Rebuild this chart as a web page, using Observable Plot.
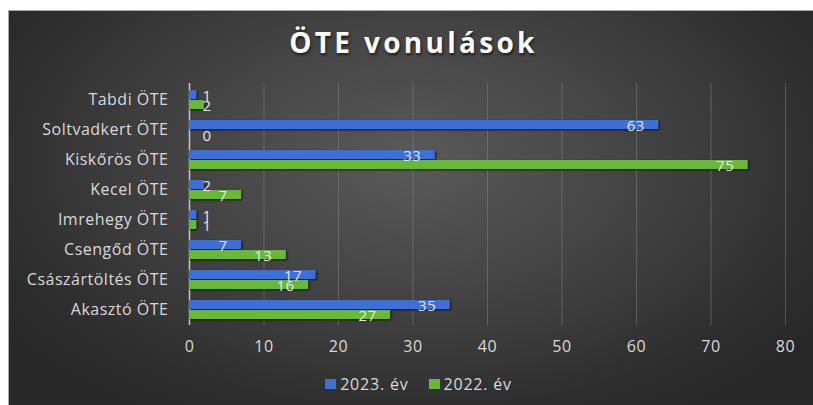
<!DOCTYPE html>
<html>
<head>
<meta charset="utf-8">
<script src="https://cdn.jsdelivr.net/npm/d3@7"></script>
<script src="https://cdn.jsdelivr.net/npm/@observablehq/plot@0.6"></script>
<style>
  html, body { margin: 0; padding: 0; background: #fff; }
  #wrap { position: relative; width: 813px; height: 405px; overflow: hidden; background: #fff; font-family: "Open Sans", sans-serif; }
  #box { position: absolute; left: 8px; top: 10px; width: 805px; height: 395px;
         background: radial-gradient(ellipse 62% 75% at 50% 38%, #5a5a5a 0%, #444 45%, #2e2e2e 85%, #282828 100%);
         border-top: 1px solid #a8a8a8; border-left: 1px solid #a8a8a8; box-sizing: border-box; }
  .layer { position: absolute; left: 0; top: 0; }
  #title { position: absolute; left: 8px; width: 805px; top: 25px; line-height: 34px; text-align: center;
           font-size: 28px; font-weight: 700; color: #fafafa; letter-spacing: 3.3px; padding-left: 6px; box-sizing: border-box;
           text-shadow: 1px 2px 3px rgba(0,0,0,0.6); }
  #legend { position: absolute; left: 8px; width: 805px; top: 374px; height: 20px; display: flex;
            justify-content: center; align-items: center; gap: 20px; font-size: 16px; letter-spacing: 0.8px; color: #d9d9d9;
            padding-left: 16px; box-sizing: border-box; }
  #legend span.item { display: flex; align-items: center; gap: 4px; }
  #legend span.sw { display: inline-block; width: 11px; height: 10px; }
  g[aria-label="bar"] rect { filter: drop-shadow(1px 1.5px 1px rgba(0,0,0,0.75)); }
</style>
</head>
<body>
<div id="wrap">
  <div id="box"></div>
  <div id="title">ÖTE vonulások</div>
  <div id="legend"></div>
</div>
<script>
const categories = ["Tabdi ÖTE", "Soltvadkert ÖTE", "Kiskőrös ÖTE", "Kecel ÖTE", "Imrehegy ÖTE", "Csengőd ÖTE", "Császártöltés ÖTE", "Akasztó ÖTE"];
const series = ["2023. év", "2022. év"];
const values2023 = [1, 63, 33, 2, 1, 7, 17, 35];
const values2022 = [2, 0, 75, 7, 1, 13, 16, 27];
const xTicks = [0, 10, 20, 30, 40, 50, 60, 70, 80];
const colors = ["#3d6fd6", "#6ab83a"];

const data = [];
categories.forEach((c, i) => {
  data.push({cat: c, series: series[0], value: values2023[i]});
  data.push({cat: c, series: series[1], value: values2022[i]});
});

const W = 813, H = 405;
const common = {width: W, height: H, marginLeft: 189, marginRight: 28, marginTop: 83, marginBottom: 80};
const band = {paddingInner: 0.3, paddingOuter: 0.15};

// background layer: grid, zero line, axes
const axisPlot = Plot.plot({
  ...common,
  style: {background: "transparent", color: "#d9d9d9", fontFamily: "'Open Sans', sans-serif", fontSize: "16px", letterSpacing: "0.5px"},
  x: {domain: [0, 80], ticks: xTicks, tickSize: 0, tickPadding: 15, label: null},
  y: {domain: categories, ...band, tickSize: 0, tickPadding: 21, label: null},
  marks: [
    Plot.ruleX(xTicks.slice(1), {stroke: "#8a8a8a", strokeOpacity: 0.45, strokeWidth: 1}),
    Plot.ruleX([0], {stroke: "#c8c8c8", strokeWidth: 1.5})
  ]
});
axisPlot.classList.add("layer");

const barPlot = Plot.plot({
  ...common,
  style: {background: "transparent", color: "#e6e6e6", fontFamily: "'Open Sans', sans-serif", fontSize: "15px", letterSpacing: "0.5px"},
  x: {domain: [0, 80], axis: null},
  fy: {domain: categories, ...band, axis: null, label: null},
  y: {domain: series, padding: 0.1, axis: null},
  color: {domain: series, range: colors},
  marks: [
    Plot.barX(data, {fy: "cat", y: "series", x: "value", fill: "series"}),
    Plot.text(data, {fy: "cat", y: "series", x: d => Math.max(d.value, 4.85), text: d => String(d.value),
      textAnchor: "end", dx: -14, dy: 1, fill: "#e6e6e6", fontSize: 15})
  ]
});
barPlot.classList.add("layer");

const wrap = document.getElementById("wrap");
wrap.insertBefore(axisPlot, document.getElementById("title"));
wrap.insertBefore(barPlot, document.getElementById("title"));

const legend = document.getElementById("legend");
series.forEach((s, i) => {
  const item = document.createElement("span");
  item.className = "item";
  const sw = document.createElement("span");
  sw.className = "sw";
  sw.style.background = colors[i];
  const t = document.createElement("span");
  t.textContent = s;
  item.appendChild(sw); item.appendChild(t);
  legend.appendChild(item);
});
</script>
</body>
</html>
